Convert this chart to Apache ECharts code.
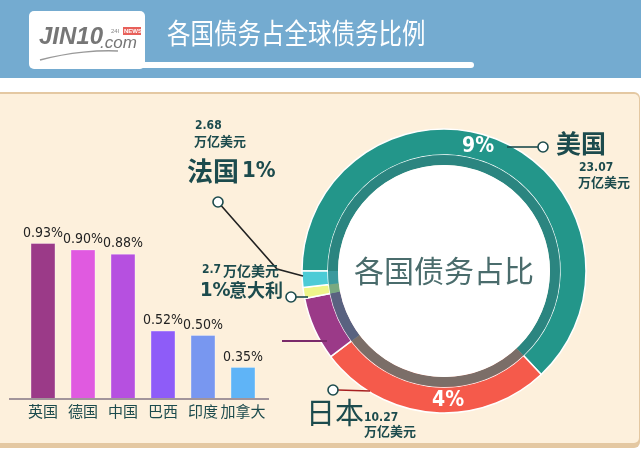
<!DOCTYPE html>
<html><head><meta charset="utf-8">
<script src="https://cdn.jsdelivr.net/npm/echarts@6/dist/echarts.min.js"></script>
<style>html,body{margin:0;padding:0;background:#fff}#c{width:641px;height:465px}</style>
</head><body><div id="c"></div>
<script>
// ---- data ----
const title = '各国债务占全球债务比例';
const barCategories = ['英国', '德国', '中国', '巴西', '印度', '加拿大'];
const barValues = [0.93, 0.90, 0.88, 0.52, 0.50, 0.35];
const barColors = ['#9b3a88', '#e05ae0', '#b650e0', '#8e5cf8', '#7897f0', '#5fb4f7'];

const pieNames = ['美国', '日本', '其他', '意大利', '法国'];
const pieShares = [63.0, 26.7, 7.2, 1.25, 1.85];   // slice sizes as drawn
const pieColors = ['#23968a', '#f55a4b', '#9b3a88', '#eef58a', '#4ccbd6'];
const debtAmounts = { '美国': '23.07', '日本': '10.27', '法国': '2.68', '意大利': '2.7' };
const pctLabels = { '美国': '9%', '日本': '4%', '法国': '1%', '意大利': '1%' };
const centerText = '各国债务占比';

const CJK = '"Noto Sans CJK SC", "Noto Sans", sans-serif';
const NUM = '"DejaVu Sans Condensed", "Liberation Sans Narrow", "Liberation Sans", sans-serif';
const DARK = '#1c4b4d';

const chart = echarts.init(document.getElementById('c'), null, { renderer: 'canvas' });

function dot(x, y) {
  return { type: 'circle', z: 110, shape: { cx: x, cy: y, r: 5 }, style: { fill: '#fff', stroke: DARK, lineWidth: 1.6 } };
}
function txt(x, y, text, size, color, font, weight, align, style) {
  return { type: 'text', z: 110, x: x, y: y, style: { text: text, fontSize: size, fill: color, fontFamily: font || CJK, fontWeight: weight || 'normal', fontStyle: style || 'normal', align: align || 'left', verticalAlign: 'top' } };
}

const titleEl = txt(167, 19, title, 23.5, '#fff');
titleEl.scaleY = 1.2;

const graphics = [
  // header band
  { type: 'rect', z: -20, shape: { x: 0, y: 0, width: 641, height: 78 }, style: { fill: '#74abd0' } },
  // cream panel
  { type: 'rect', z: -20, shape: { x: -10, y: 92, width: 650, height: 356, r: 6 }, style: { fill: '#e4c8a2' } },
  { type: 'rect', z: -19, shape: { x: -10, y: 94, width: 649, height: 349, r: 5 }, style: { fill: '#fdf0dc' } },
  // logo box & underline
  { type: 'rect', z: -10, shape: { x: 140, y: 62, width: 334, height: 6, r: 3 }, style: { fill: '#fff' } },
  { type: 'rect', z: -10, shape: { x: 29, y: 11, width: 116, height: 58, r: 5 }, style: { fill: '#fff' } },
  txt(39, 25, 'JIN10', 24, '#767676', '"Liberation Sans Narrow", "Liberation Sans", sans-serif', 'bold', 'left', 'italic'),
  txt(100, 35, '.com', 17, '#767676', '"Liberation Sans", sans-serif', 'normal', 'left', 'italic'),
  { type: 'rect', z: 110, shape: { x: 123, y: 27, width: 18, height: 8 }, style: { fill: '#e8605a' } },
  txt(124, 28, 'NEWS', 6, '#fff', '"Liberation Sans", sans-serif', 'bold'),
  txt(111, 28, '24I', 6, '#888', '"Liberation Sans", sans-serif', 'normal'),
  { type: 'bezierCurve', z: 110, shape: { x1: 40, y1: 60, x2: 118, y2: 51, cpx1: 70, cpy1: 52, cpx2: 100, cpy2: 50 }, style: { stroke: '#999', lineWidth: 1.5, fill: null } },
  titleEl,
  // bar baseline
  { type: 'line', z: 50, shape: { x1: 9, y1: 399, x2: 269, y2: 399 }, style: { stroke: '#a2949a', lineWidth: 2 } },
  // 美国
  { type: 'line', z: 105, shape: { x1: 507, y1: 147, x2: 538, y2: 147 }, style: { stroke: DARK, lineWidth: 1.6 } },
  dot(543, 147),
  txt(556, 131, '美国', 25, DARK, CJK, 'bold'),
  txt(579, 162, debtAmounts['美国'], 12, DARK, NUM, 'bold'),
  txt(578, 176, '万亿美元', 13, DARK, CJK, 'bold'),
  txt(462, 136, pctLabels['美国'], 21, '#fff', NUM, 'bold'),
  // 日本
  { type: 'line', z: 105, shape: { x1: 338, y1: 390, x2: 370, y2: 391 }, style: { stroke: '#a82020', lineWidth: 1.6 } },
  dot(333, 390),
  txt(306, 398, '日本', 29, DARK, CJK, 'normal'),
  txt(364, 412, debtAmounts['日本'], 12, DARK, NUM, 'bold'),
  txt(364, 425, '万亿美元', 13, DARK, CJK, 'bold'),
  txt(432, 390, pctLabels['日本'], 21, '#fff', NUM, 'bold'),
  // 法国
  { type: 'polyline', z: 105, shape: { points: [[218, 202], [277, 269], [303, 276]] }, style: { stroke: '#222', lineWidth: 1.6, fill: null } },
  dot(218, 202),
  txt(195, 120, debtAmounts['法国'], 12, DARK, NUM, 'bold'),
  txt(194, 135, '万亿美元', 13, DARK, CJK, 'bold'),
  txt(187, 158, '法国', 26, DARK, CJK, 'bold'),
  txt(242, 160, pctLabels['法国'], 22, DARK, NUM, 'bold'),
  // 意大利
  { type: 'line', z: 105, shape: { x1: 296, y1: 297, x2: 308, y2: 297 }, style: { stroke: DARK, lineWidth: 1.6 } },
  dot(291, 297),
  txt(202, 264, debtAmounts['意大利'], 12, DARK, NUM, 'bold'),
  txt(223, 264, '万亿美元', 14, DARK, CJK, 'bold'),
  txt(200, 281, pctLabels['意大利'], 20, DARK, NUM, 'bold'),
  txt(229, 281, '意大利', 18, DARK, CJK, 'bold'),
  // other group pointer
  { type: 'line', z: 105, shape: { x1: 282, y1: 341, x2: 327, y2: 341 }, style: { stroke: '#7a2a6a', lineWidth: 2 } }
];

const option = {
  animation: false,
  backgroundColor: 'transparent',
  grid: { left: 23, width: 240, top: 228, bottom: 66 },
  xAxis: {
    type: 'category', data: barCategories,
    axisLine: { show: false }, axisTick: { show: false },
    axisLabel: { interval: 0, color: DARK, fontSize: 15, fontFamily: CJK, margin: 5 }
  },
  yAxis: { type: 'value', min: 0.2, max: 1.0, show: false, splitLine: { show: false } },
  graphic: graphics,
  series: [
    {
      type: 'bar', data: barValues.map((v, i) => ({ value: v, itemStyle: { color: barColors[i] } })),
      barWidth: 25, z: 3,
      itemStyle: { borderColor: 'rgba(255,255,255,0.35)', borderWidth: 1 },
      label: { show: true, position: 'top', distance: 3, color: '#222', fontSize: 14, fontFamily: NUM,
        formatter: p => p.value.toFixed(2) + '%' }
    },
    {
      type: 'pie', center: [444, 271], radius: [116, 142], startAngle: 180, clockwise: true,
      silent: true, label: { show: false }, labelLine: { show: false },
      itemStyle: { borderColor: '#fff', borderWidth: 1.5 },
      data: pieNames.map((n, i) => ({ name: n, value: pieShares[i], itemStyle: { color: pieColors[i] } }))
    },
    {
      type: 'pie', center: [444, 271], radius: [106, 116], startAngle: 180, clockwise: true,
      silent: true, label: { show: false }, labelLine: { show: false },
      data: pieNames.map((n, i) => ({ name: n, value: pieShares[i], itemStyle: { color: pieColors[i] } }))
    },
    {
      type: 'pie', center: [444, 271], radius: [106, 116], silent: true, z: 3,
      label: { show: false }, labelLine: { show: false },
      data: [{ value: 1, itemStyle: { color: 'rgba(48,123,122,0.62)' } }]
    },
    {
      type: 'pie', center: [444, 271], radius: [0, 106], silent: true, z: 4,
      labelLine: { show: false },
      label: { show: true, position: 'center', formatter: centerText, fontSize: 30, color: '#4a6c6c', fontFamily: CJK },
      data: [{ value: 1, itemStyle: { color: '#fff' } }]
    }
  ]
};
chart.setOption(option);
</script>
</body></html>
